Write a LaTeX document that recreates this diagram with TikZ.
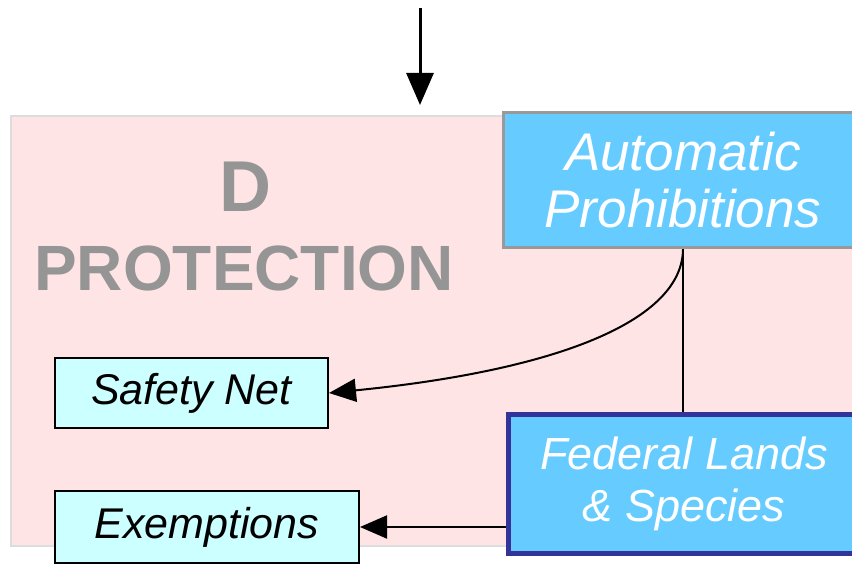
\documentclass[tikz,border=0pt]{standalone}
\usepackage{fontspec}
\setmainfont{Liberation Sans}
\usetikzlibrary{positioning, calc, arrows.meta}
\definecolor{protpink}{HTML}{FFE4E6}
\definecolor{framegray}{HTML}{DDDDDD}
\definecolor{titlegray}{HTML}{959595}
\definecolor{skyblue}{HTML}{66CCFF}
\definecolor{palecyan}{HTML}{CCFFFF}
\definecolor{navyline}{HTML}{333399}
\definecolor{boxgray}{HTML}{999999}

\begin{document}
\begin{tikzpicture} [x=1pt, y=-1pt, every node/.style={inner sep=0pt, align=center},
  bluebox/.style={fill=skyblue, text=white},
  cyanbox/.style={fill=palecyan, draw=black, line width=2pt, font=\itshape\fontsize{43}{48}\selectfont},
  tip/.style={-{Triangle[length=27pt, width=23pt]}, line width=2pt}]
\useasboundingbox (0,0) rectangle (852,564);
% the protection frame
\node [fill=protpink, draw=framegray, line width=2pt, minimum width=860pt, minimum height=430pt, anchor=north west] (frame) at (10,115) {};
\node [text=titlegray, font=\bfseries\fontsize{72}{72}\selectfont] (letter) at (245,187) {D};
\node [text=titlegray, font=\bfseries\fontsize{64}{64}\selectfont] (title) at (244,268) {PROTECTION};

\node [bluebox, draw=boxgray, line width=3pt, minimum width=360pt, minimum height=135pt, font=\itshape\fontsize{53}{57}\selectfont] (auto) at (683,180.5) {Automatic\\Prohibitions};
\node [bluebox, draw=navyline, line width=5pt, minimum width=352pt, minimum height=139pt, font=\itshape\fontsize{45}{52}\selectfont] (fed) at (684,484) {Federal Lands\\\& Species};

\node [cyanbox, minimum width=273pt, minimum height=70pt] (safety) at (191.5,393) {Safety Net};
\node [cyanbox, minimum width=304pt, minimum height=72pt] (exempt) at (207,527) {Exemptions};

% arrows
\coordinate (entry) at (420,8);
\draw [-{Triangle[length=32pt, width=27pt]}, line width=3pt] (entry) -- (420,105);
\draw [line width=2pt] (auto.south) -- (auto.south |- fed.north);
\draw [tip] (auto.south) .. controls (682,320) and (560,370) .. (safety.east);
\draw [tip] (fed.west |- exempt.east) -- (exempt.east);
\end{tikzpicture}
\end{document}
